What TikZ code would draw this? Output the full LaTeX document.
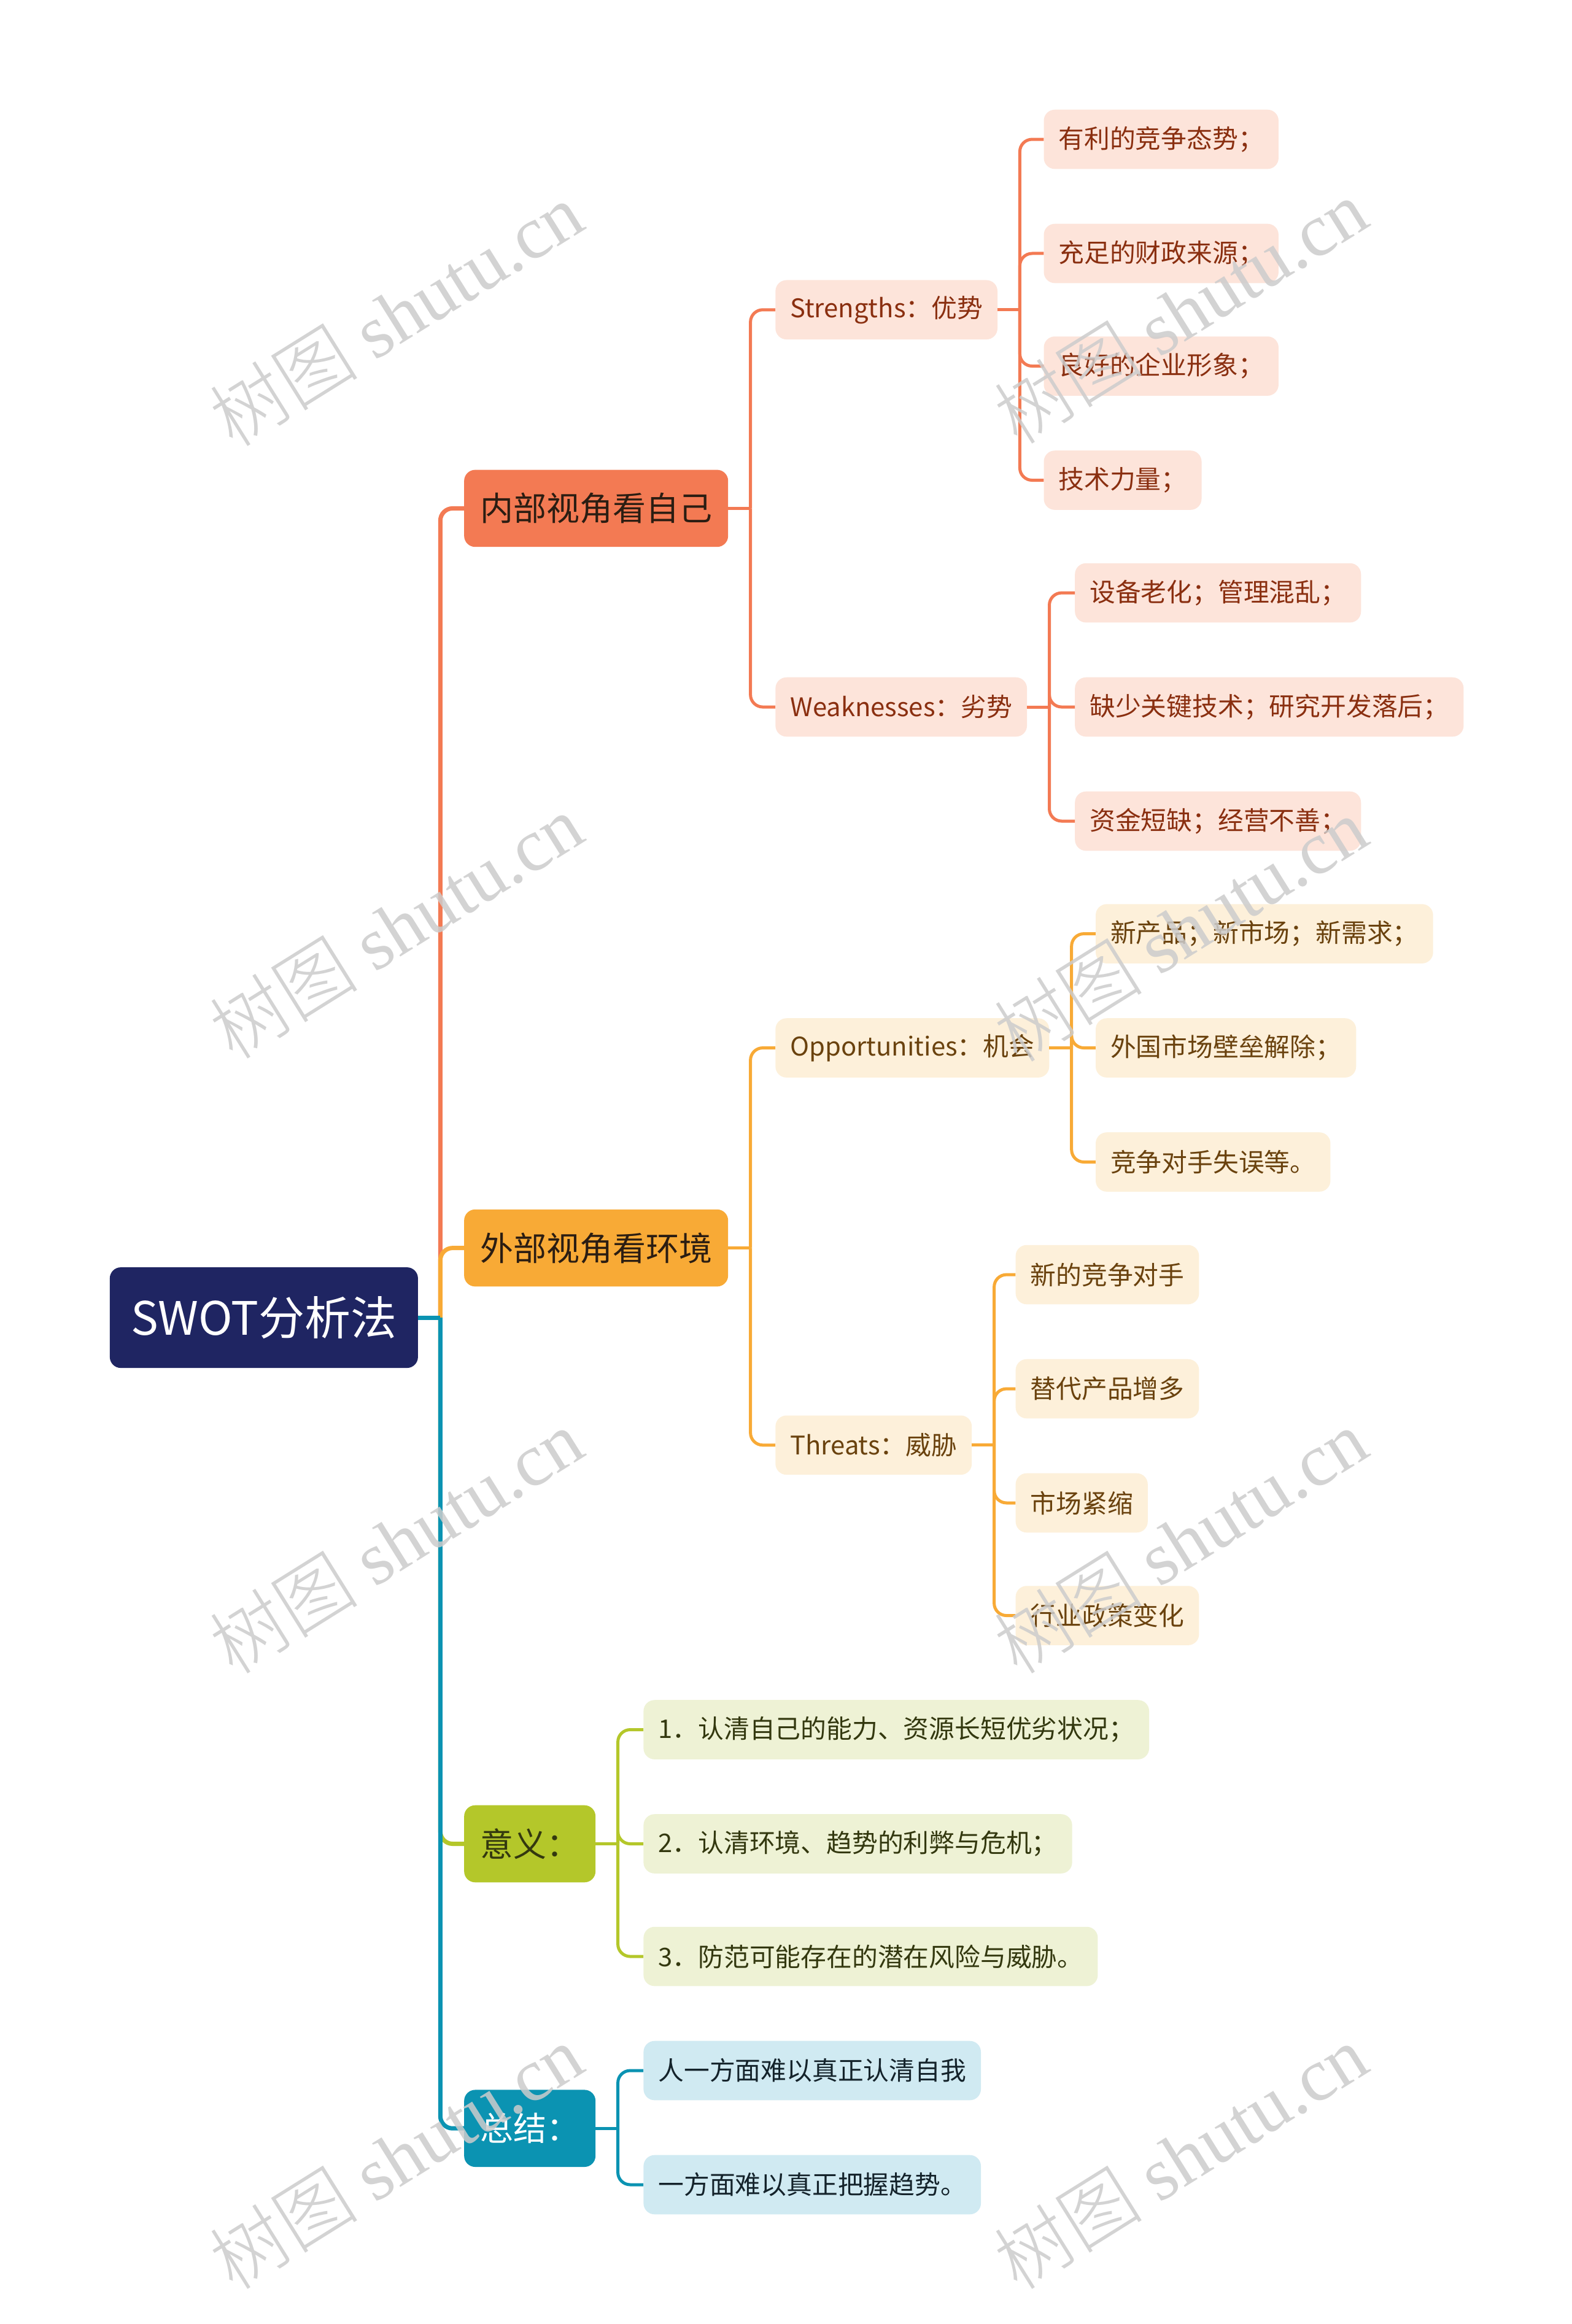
\documentclass[tikz,border=0pt]{standalone}
\usepackage{fontspec}
\setmainfont{Noto Sans CJK SC}
\newfontfamily\wmlatin{Liberation Serif}
\newfontfamily\wmcjk{Noto Sans CJK SC Light}
\definecolor{rootc}{HTML}{1F2562}
\definecolor{cA}{HTML}{F37A53}
\definecolor{cB}{HTML}{F8AA36}
\definecolor{cC}{HTML}{B4C72A}
\definecolor{cD}{HTML}{0B93B2}
\definecolor{fA}{HTML}{FDE4DA}
\definecolor{fB}{HTML}{FDF0DA}
\definecolor{fC}{HTML}{EEF2D5}
\definecolor{fD}{HTML}{D0EAF2}
\definecolor{tA}{HTML}{8A2F10}
\definecolor{tB}{HTML}{6A420E}
\definecolor{tC}{HTML}{33380F}
\definecolor{tD}{HTML}{14232B}
\definecolor{tL}{HTML}{2B1D12}
\begin{document}
\begin{tikzpicture}[x=2.415pt,y=-2.415pt,
  box/.style={rounded corners=18pt, inner ysep=0pt, anchor=west},
  l1/.style={box, minimum height=125.6pt, inner xsep=26pt, font=\fontsize{54pt}{64pt}\selectfont},
  l2/.style={box, minimum height=96.6pt, inner xsep=24pt, font=\fontsize{41.8pt}{50pt}\selectfont},
  bA/.style={l2, fill=fA, text=tA},
  bB/.style={l2, fill=fB, text=tB},
  bC/.style={l2, fill=fC, text=tC},
  bD/.style={l2, fill=fD, text=tD},
  c1/.style={line width=7pt, rounded corners=20pt},
  c2/.style={line width=5pt, rounded corners=20pt},
  wm/.style={rotate=32, text=black!20, opacity=0.85, font=\fontsize{122pt}{130pt}\selectfont}
]
\useasboundingbox (0,0) rectangle (1060,1568);
\fill[white] (0,0) rectangle (1060,1568);

% root and level 1
\node[box, fill=rootc, text=white, anchor=center, minimum width=502pt, minimum height=164pt, inner xsep=0pt,
  font=\fontsize{75pt}{90pt}\selectfont] (root) at (178,889) {SWOT分析法};
\node[l1, fill=cA, text=tL] (A) at (313,343) {内部视角看自己};
\node[l1, fill=cB, text=tL] (B) at (313,842) {外部视角看环境};
\node[l1, fill=cC, text=tC] (C) at (313,1244) {意义：};
\node[l1, fill=cD, text=white] (D) at (313,1436) {总结：};

% level 2
\node[bA] (AS) at (523,209) {Strengths：优势};
\node[bA] (AW) at (523,477) {Weaknesses：劣势};
\node[bB] (BO) at (523,707) {Opportunities：机会};
\node[bB] (BT) at (523,975) {Threats：威胁};
\node[bC] (C1) at (434,1167) {1．认清自己的能力、资源长短优劣状况；};
\node[bC] (C2) at (434,1244) {2．认清环境、趋势的利弊与危机；};
\node[bC] (C3) at (434,1320) {3．防范可能存在的潜在风险与威胁。};
\node[bD] (D1) at (434,1397) {人一方面难以真正认清自我};
\node[bD] (D2) at (434,1474) {一方面难以真正把握趋势。};

% level 3
\node[bA] (AS1) at (704,94) {有利的竞争态势；};
\node[bA] (AS2) at (704,171) {充足的财政来源；};
\node[bA] (AS3) at (704,247) {良好的企业形象；};
\node[bA] (AS4) at (704,324) {技术力量；};
\node[bA] (AW1) at (725,400) {设备老化；管理混乱；};
\node[bA] (AW2) at (725,477) {缺少关键技术；研究开发落后；};
\node[bA] (AW3) at (725,554) {资金短缺；经营不善；};
\node[bB] (BO1) at (739,630) {新产品；新市场；新需求；};
\node[bB] (BO2) at (739,707) {外国市场壁垒解除；};
\node[bB] (BO3) at (739,784) {竞争对手失误等。};
\node[bB] (BT1) at (685,860) {新的竞争对手};
\node[bB] (BT2) at (685,937) {替代产品增多};
\node[bB] (BT3) at (685,1014) {市场紧缩};
\node[bB] (BT4) at (685,1090) {行业政策变化};

% junction points
\path (root.east) -- ++(15,0) coordinate (j0);
\path (A.east) -- ++(15,0) coordinate (jA);
\path (B.east) -- ++(15,0) coordinate (jB);
\path (C.east) -- ++(15,0) coordinate (jC);
\path (D.east) -- ++(15,0) coordinate (jD);
\path (AS.east) -- ++(15,0) coordinate (jAS);
\path (AW.east) -- ++(15,0) coordinate (jAW);
\path (BO.east) -- ++(15,0) coordinate (jBO);
\path (BT.east) -- ++(15,0) coordinate (jBT);

% root connectors
\draw[c1, cA] (j0) |- (A.west);
\draw[c1, cB] (j0) |- (B.west);
\draw[c1, cC] (j0) |- (C.west);
\draw[c1, cD] (j0) |- (D.west);
\draw[c1, cD] (root.east) -- (j0);

% branch A
\draw[c2, cA] (A.east) -- (jA);
\draw[c2, cA] (jA) |- (AS.west);
\draw[c2, cA] (jA) |- (AW.west);
\draw[c2, cA] (AS.east) -- (jAS);
\foreach \n in {AS1,AS2,AS3,AS4} \draw[c2, cA] (jAS) |- (\n.west);
\draw[c2, cA] (AW.east) -- (jAW);
\foreach \n in {AW1,AW2,AW3} \draw[c2, cA] (jAW) |- (\n.west);

% branch B
\draw[c2, cB] (B.east) -- (jB);
\draw[c2, cB] (jB) |- (BO.west);
\draw[c2, cB] (jB) |- (BT.west);
\draw[c2, cB] (BO.east) -- (jBO);
\foreach \n in {BO1,BO2,BO3} \draw[c2, cB] (jBO) |- (\n.west);
\draw[c2, cB] (BT.east) -- (jBT);
\foreach \n in {BT1,BT2,BT3,BT4} \draw[c2, cB] (jBT) |- (\n.west);

% branch C
\draw[c2, cC] (C.east) -- (jC);
\foreach \n in {C1,C2,C3} \draw[c2, cC] (jC) |- (\n.west);

% branch D
\draw[c2, cD] (D.east) -- (jD);
\foreach \n in {D1,D2} \draw[c2, cD] (jD) |- (\n.west);

% watermarks
\foreach \x/\y in {267/212, 796/210, 267/625, 796/627, 267/1040, 796/1040, 267/1455, 796/1455}
  \node[wm] at (\x,\y) {{\wmcjk 树图} {\wmlatin shutu.cn}};
\end{tikzpicture}
\end{document}
